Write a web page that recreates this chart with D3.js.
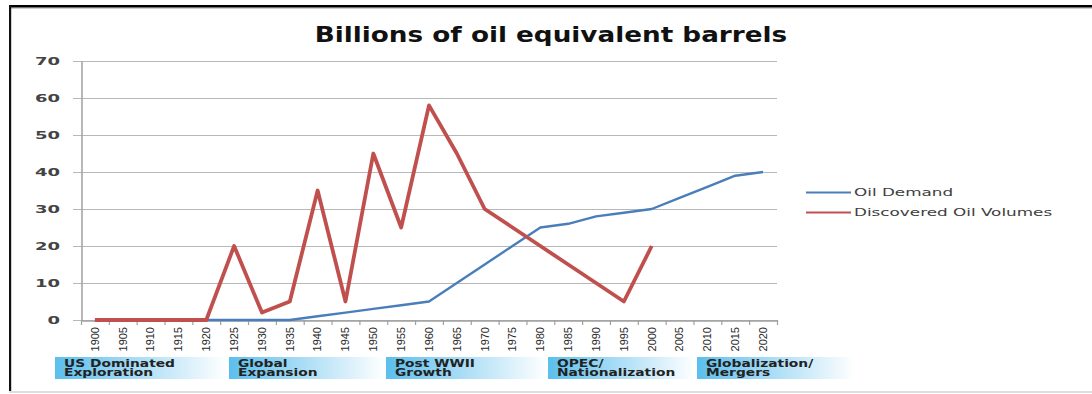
<!DOCTYPE html>
<html>
<head>
<meta charset="utf-8">
<script src="https://cdn.jsdelivr.net/npm/d3@7"></script>
<style>
  body { margin: 0; background: #fff; }
  svg { display: block; }
</style>
</head>
<body>
<svg id="chart" width="1092" height="394"></svg>
<script>
// ---- data ----
const years = [1900, 1905, 1910, 1915, 1920, 1925, 1930, 1935, 1940, 1945, 1950, 1955, 1960,
               1965, 1970, 1975, 1980, 1985, 1990, 1995, 2000, 2005, 2010, 2015, 2020];
const oilDemand = [0, 0, 0, 0, 0, 0, 0, 0, 1, 2, 3, 4, 5,
                   10, 15, 20, 25, 26, 28, 29, 30, 33, 36, 39, 40];
const discoveredOil = [0, 0, 0, 0, 0, 20, 2, 5, 35, 5, 45, 25, 58,
                       45, 30, 25, 20, 15, 10, 5, 20, null, null, null, null];
const yTicks = [0, 10, 20, 30, 40, 50, 60, 70];
const seriesNames = ["Oil Demand", "Discovered Oil Volumes"];
const eraLabels = [
  ["US Dominated", "Exploration"],
  ["Global", "Expansion"],
  ["Post WWII", "Growth"],
  ["OPEC/", "Nationalization"],
  ["Globalization/", "Mergers"]
];
const titleText = "Billions of oil equivalent barrels";

// ---- layout ----
const plot = { left: 81, right: 777, top: 61, bottom: 320 };
const colors = { demand: "#4a7ebb", discovered: "#c0504d", grid: "#b8b8b8", axis: "#a0a0a0" };
const eraBoxes = [[55, 227], [229, 385], [386, 547], [548, 695], [697, 855]];

const svg = d3.select("#chart");

// Horizontally widen a text element by factor sx (the lettering is drawn wide)
function widen(sel, sx) {
  sel.each(function () {
    const w = this.getComputedTextLength();
    d3.select(this).attr("textLength", w * sx).attr("lengthAdjust", "spacingAndGlyphs");
  });
}

// ---- frame ----
svg.append("rect").attr("x", 9).attr("y", 7.5).attr("width", 1083).attr("height", 1.5).attr("fill", "#cfcfcf");
svg.append("rect").attr("x", 9).attr("y", 5).attr("width", 1083).attr("height", 2.5).attr("fill", "#000");
svg.append("rect").attr("x", 9).attr("y", 5).attr("width", 2.2).attr("height", 388).attr("fill", "#111");
svg.append("rect").attr("x", 9).attr("y", 391).attr("width", 1083).attr("height", 2).attr("fill", "#dedede");

// ---- scales ----
const x = d3.scaleBand().domain(years).range([plot.left, plot.right]).paddingInner(0).paddingOuter(0);
const y = d3.scaleLinear().domain([0, 70]).range([plot.bottom, plot.top]);
const cx = d => x(d) + x.bandwidth() / 2;

// ---- gridlines ----
svg.append("g")
  .selectAll("line")
  .data(yTicks)
  .join("line")
  .attr("x1", 73).attr("x2", plot.right)
  .attr("y1", d => y(d) + 0.5).attr("y2", d => y(d) + 0.5)
  .attr("stroke", colors.grid).attr("stroke-width", 1.2);

// ---- y axis ----
const yAxis = svg.append("g")
  .attr("transform", `translate(${plot.left + 0.5},0)`)
  .call(d3.axisLeft(y).tickValues(yTicks).tickSize(0).tickPadding(0));
yAxis.select(".domain").attr("stroke", colors.axis).attr("stroke-width", 1.5);
yAxis.selectAll("text").remove();

svg.append("g")
  .selectAll("text")
  .data(yTicks)
  .join("text")
  .attr("y", d => y(d) + 3.8)
  .attr("font-family", "DejaVu Sans")
  .attr("font-weight", "bold")
  .attr("font-size", 10)
  .attr("fill", "#444")
  .text(d => d)
  .call(widen, 1.8)
  .attr("x", function () { return 60 - +this.getAttribute("textLength"); });

// ---- x axis ----
const xAxis = svg.append("g")
  .attr("transform", `translate(0,${plot.bottom + 0.5})`)
  .call(d3.axisBottom(x).tickSize(0).tickFormat(""));
xAxis.select(".domain").attr("stroke", colors.axis).attr("stroke-width", 1.5);
xAxis.selectAll(".tick").remove();

// tick marks sit on the band boundaries
const boundaries = years.map(d => x(d)).concat([plot.right]);
svg.append("g")
  .selectAll("line")
  .data(boundaries)
  .join("line")
  .attr("x1", d => d + 0.5).attr("x2", d => d + 0.5)
  .attr("y1", plot.bottom).attr("y2", plot.bottom + 5)
  .attr("stroke", colors.axis).attr("stroke-width", 1.2);

svg.append("g")
  .selectAll("text")
  .data(years)
  .join("text")
  .attr("transform", d => `translate(${cx(d)},${plot.bottom + 7}) rotate(-90)`)
  .attr("text-anchor", "end")
  .attr("dy", "0.35em")
  .attr("font-family", "Liberation Sans")
  .attr("font-size", 11)
  .attr("fill", "#2a2a2a")
  .text(d => d);

// ---- lines ----
const lineGen = d3.line()
  .defined(d => d.v != null)
  .x(d => cx(d.year))
  .y(d => y(d.v));

const demandPts = years.map((yr, i) => ({ year: yr, v: oilDemand[i] }));
const discoveredPts = years.map((yr, i) => ({ year: yr, v: discoveredOil[i] }));

svg.append("path")
  .datum(demandPts)
  .attr("d", lineGen)
  .attr("fill", "none")
  .attr("stroke", colors.demand)
  .attr("stroke-width", 2.4)
  .attr("stroke-linejoin", "round");

svg.append("path")
  .datum(discoveredPts)
  .attr("d", lineGen)
  .attr("fill", "none")
  .attr("stroke", colors.discovered)
  .attr("stroke-width", 3.8)
  .attr("stroke-linejoin", "round");

// ---- title ----
svg.append("text")
  .attr("y", 42)
  .attr("font-family", "DejaVu Sans")
  .attr("font-weight", "bold")
  .attr("font-size", 21)
  .attr("fill", "#111")
  .text(titleText)
  .call(widen, 1.25)
  .attr("x", function () { return 551 - +this.getAttribute("textLength") / 2; });

// ---- legend ----
const legendColors = [colors.demand, colors.discovered];
const legend = svg.append("g")
  .selectAll("g")
  .data(seriesNames)
  .join("g")
  .attr("transform", (d, i) => `translate(806,${192.5 + i * 20})`);
legend.append("line")
  .attr("x1", 0).attr("x2", 45)
  .attr("stroke", (d, i) => legendColors[i])
  .attr("stroke-width", 2.2);
legend.append("text")
  .attr("x", 48)
  .attr("y", 3.7)
  .attr("font-family", "DejaVu Sans")
  .attr("font-size", 10)
  .attr("fill", "#404040")
  .text(d => d)
  .call(widen, 1.68);

// ---- era bands ----
const defs = svg.append("defs");
const grad = defs.append("linearGradient").attr("id", "eraFill").attr("x1", "0%").attr("x2", "100%");
grad.append("stop").attr("offset", "0%").attr("stop-color", "#5bbfed");
grad.append("stop").attr("offset", "45%").attr("stop-color", "#a6dbf5");
grad.append("stop").attr("offset", "100%").attr("stop-color", "#ffffff");

const eras = svg.append("g")
  .selectAll("g")
  .data(eraLabels)
  .join("g")
  .attr("transform", (d, i) => `translate(${eraBoxes[i][0]},357)`);
eras.append("rect")
  .attr("width", (d, i) => eraBoxes[i][1] - eraBoxes[i][0])
  .attr("height", 22)
  .attr("fill", "url(#eraFill)");
eras.each(function (lines) {
  d3.select(this).selectAll("text")
    .data(lines)
    .join("text")
    .attr("x", 9)
    .attr("y", (d, j) => 9.5 + j * 9.3)
    .attr("font-family", "DejaVu Sans")
    .attr("font-weight", "bold")
    .attr("font-size", 10)
    .attr("fill", "#222")
    .text(d => d)
    .call(widen, 1.38);
});
</script>
</body>
</html>
